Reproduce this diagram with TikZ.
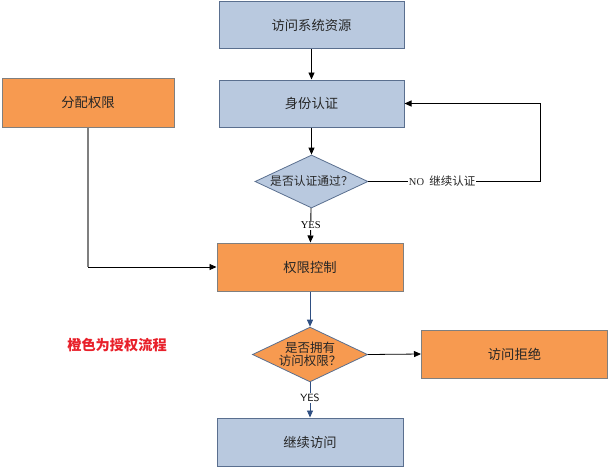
\documentclass[tikz,border=0pt]{standalone}
\usepackage{fontspec}
\setmainfont{Liberation Serif}
\newfontfamily\cjk{Noto Sans CJK SC}
\usetikzlibrary{shapes.geometric,arrows.meta}
\definecolor{boxblue}{HTML}{B9C9DF}
\definecolor{boxorange}{HTML}{F79A50}
\definecolor{edgeblue}{HTML}{5A6F8F}
\definecolor{edgegray}{HTML}{7F7F7F}
\definecolor{flowblue}{HTML}{2F4F82}
\definecolor{redtxt}{HTML}{E8202A}
\definecolor{txt}{HTML}{262626}
\tikzset{
  bluebox/.style={draw=edgeblue, fill=boxblue, line width=1pt, minimum width=185pt, minimum height=47pt, inner sep=0pt, text=txt, font=\cjk\fontsize{13.3}{15}\selectfont},
  orangebox/.style={draw=edgegray, fill=boxorange, line width=1pt, minimum width=186pt, minimum height=48pt, inner sep=0pt, text=txt, font=\cjk\fontsize{13.3}{15}\selectfont},
  bluedia/.style={diamond, draw=edgeblue, fill=boxblue, line width=0.8pt, minimum width=113pt, minimum height=53pt, inner sep=0pt, aspect=2.1, text=txt, font=\cjk\fontsize{11.8}{13}\selectfont},
  orangedia/.style={diamond, draw=edgeblue, fill=boxorange, line width=0.8pt, minimum width=113pt, minimum height=53pt, inner sep=0pt, aspect=2.1, text=txt, font=\cjk\fontsize{12.5}{13.5}\selectfont, align=center},
  arr/.style={-{Triangle[length=7pt,width=6pt]}, line width=0.9pt, black},
  barr/.style={-{Triangle[length=7pt,width=6pt]}, line width=0.9pt, flowblue},
  lbl/.style={fill=white, inner sep=1pt, text=black, font=\fontsize{10.5}{12}\selectfont}
}
\begin{document}
\begin{tikzpicture}[x=1pt,y=-1pt]
\useasboundingbox (0,0) rectangle (609,469);
\node[bluebox] (res) at (311.5,25) {访问系统资源};
\node[bluebox] (auth) at (311.5,103.5) {身份认证};
\node[bluedia] (d1) at (311.5,181.5) {是否认证通过？};
\node[orangebox] (ctrl) at (310,267) {权限控制};
\node[orangedia] (d2) at (310,354.5) {是否拥有\\访问权限？};
\node[orangebox] (deny) at (514.5,354) {访问拒绝};
\node[bluebox, minimum width=186pt, minimum height=48pt] (cont) at (310,442) {继续访问};
\node[orangebox, minimum width=172pt, minimum height=49pt] (assign) at (88,102.5) {分配权限};
\node[font=\cjk\bfseries\fontsize{14.2}{16}\selectfont, text=redtxt] (note) at (117,345) {橙色为授权流程};
\coordinate (fbr) at (540,181.5);
\coordinate (fbt) at (540,103.5);
\coordinate (asb) at (88,267);

\draw[arr] (res) -- (auth);
\draw[arr] (auth) -- (d1);
\draw[arr] (d1) -- node[lbl, pos=0.5] (yes1) {YES} (ctrl);
\draw[line width=0.9pt] (d1.east) -- node[lbl, pos=0.43, text=txt] (no1) {NO\ \ {\cjk\fontsize{11.5}{13}\selectfont 继续认证}} (fbr);
\draw[arr] (fbr) -- (fbt) -- (auth.east);
\draw[line width=1.2pt, edgegray] (assign.south) -- (asb);
\draw[arr] (asb) -- (ctrl.west);
\draw[barr] (ctrl) -- (d2);
\draw[barr] (d2) -- node[lbl, pos=0.45, font=\sffamily\fontsize{10.5}{12}\selectfont] (yes2) {YES} (cont);
\draw[arr, line width=0.8pt] (d2.east) -- (deny.west);
\end{tikzpicture}
\end{document}
